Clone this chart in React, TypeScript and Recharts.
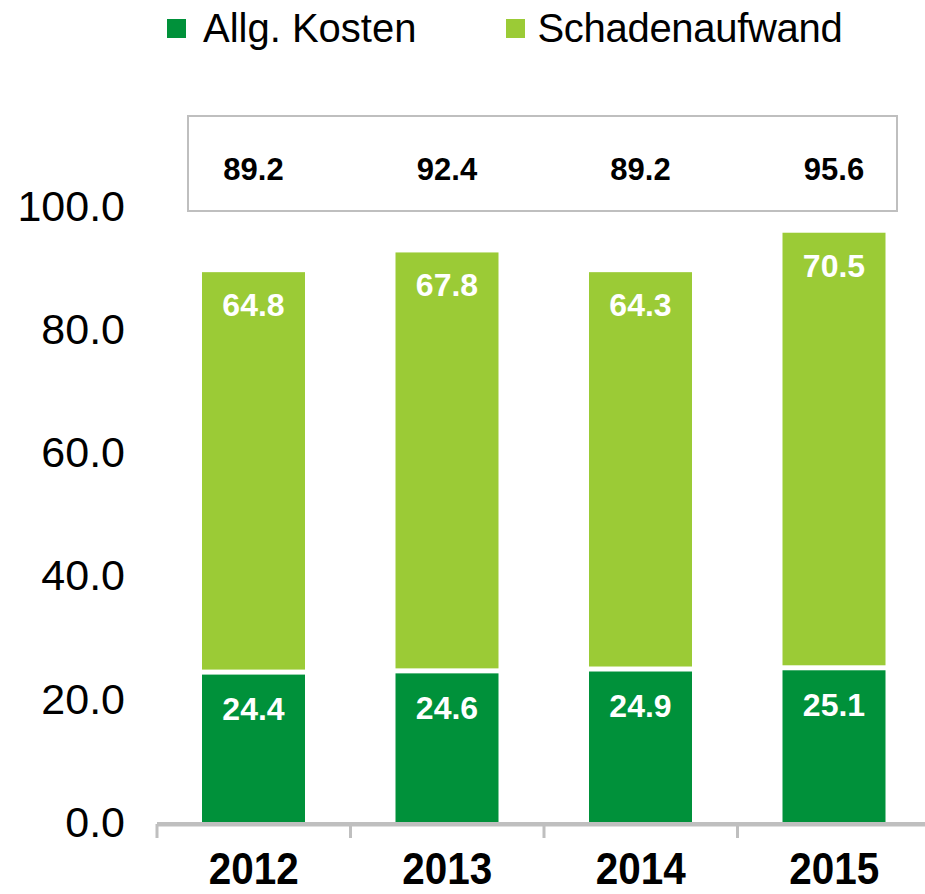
import React from 'react';
import { BarChart, Bar, XAxis, YAxis, LabelList } from 'recharts';

const categories = ['2012', '2013', '2014', '2015'];
const allgKosten = [24.4, 24.6, 24.9, 25.1];
const schadenaufwand = [64.8, 67.8, 64.3, 70.5];
const totals = [89.2, 92.4, 89.2, 95.6];
const yTicks = [0, 20, 40, 60, 80, 100];
const seriesNames = ['Allg. Kosten', 'Schadenaufwand'];

const DARK = '#00913A';
const LIGHT = '#9BCB36';
const GRAY = '#BFBFBF';
const FONT = '"Liberation Sans", Arial, sans-serif';

const data = categories.map((c, i) => ({
  year: c,
  allg: allgKosten[i],
  schaden: schadenaufwand[i],
  total: totals[i],
}));

const HALF_BAND = 96.75;

const DarkShape = (p: any) => (
  <rect x={p.x} y={p.y + 3} width={p.width} height={Math.max(0, p.height - 3)} fill={DARK} />
);
const LightShape = (p: any) => (
  <rect x={p.x} y={p.y} width={p.width} height={Math.max(0, p.height - 2)} fill={LIGHT} />
);

const insideLabel = (dy: number) => (p: any) => (
  <text
    x={p.x + p.width / 2}
    y={p.y + dy}
    textAnchor="middle"
    fill="#FFFFFF"
    fontFamily={FONT}
    fontWeight="bold"
    fontSize={32}
  >
    {Number(p.value).toFixed(1)}
  </text>
);

const totalLabel = (p: any) => (
  <text
    x={p.x + p.width / 2}
    y={180}
    textAnchor="middle"
    fill="#000000"
    fontFamily={FONT}
    fontWeight="bold"
    fontSize={31}
  >
    {totals[p.index].toFixed(1)}
  </text>
);

const YearTick = (p: any) => (
  <g>
    <line x1={p.x - HALF_BAND} x2={p.x - HALF_BAND} y1={824} y2={838} stroke={GRAY} strokeWidth={3} />
    <text
      transform={`translate(${p.x},884) scale(0.92,1)`}
      textAnchor="middle"
      fill="#000000"
      fontFamily={FONT}
      fontWeight="bold"
      fontSize={44}
    >
      {p.payload.value}
    </text>
  </g>
);

const YTick = (p: any) => (
  <text
    x={125}
    y={p.y + 15}
    textAnchor="end"
    fill="#000000"
    fontFamily={FONT}
    fontSize={43}
  >
    {Number(p.payload.value).toFixed(1)}
  </text>
);

export default function App() {
  return (
    <div style={{ position: 'relative', width: 925, height: 894, overflow: 'hidden', background: '#fff' }}>
      <style>{'html,body{margin:0;padding:0;overflow:hidden;}'}</style>
      <div
        style={{
          position: 'absolute',
          left: 167,
          top: 5,
          display: 'flex',
          alignItems: 'center',
          fontFamily: FONT,
          fontSize: 40,
          color: '#000',
          whiteSpace: 'nowrap',
          lineHeight: '46px',
        }}
      >
        <span style={{ width: 19, height: 19, background: DARK, display: 'inline-block', marginRight: 17 }} />
        <span style={{ marginRight: 90 }}>{seriesNames[0]}</span>
        <span style={{ width: 19, height: 19, background: LIGHT, display: 'inline-block', marginRight: 12 }} />
        <span style={{ letterSpacing: -0.3 }}>{seriesNames[1]}</span>
      </div>
      <div
        style={{
          position: 'absolute',
          left: 187,
          top: 115,
          width: 711,
          height: 97,
          border: `2px solid ${GRAY}`,
          boxSizing: 'border-box',
        }}
      />
      <div style={{ position: 'absolute', left: 0, top: 0 }}>
        <BarChart
          width={940}
          height={894}
          data={data}
          margin={{ top: 205.6, right: 9, bottom: 0, left: 0 }}
          barSize={103}
        >
          <XAxis
            dataKey="year"
            height={72}
            axisLine={{ stroke: GRAY, strokeWidth: 4.6, transform: 'translate(0,2.3)' }}
            tickLine={false}
            tickSize={0}
            tick={<YearTick />}
            interval={0}
          />
          <YAxis
            width={157}
            domain={[0, 100]}
            ticks={yTicks}
            axisLine={false}
            tickLine={false}
            tickSize={0}
            tick={<YTick />}
            allowDataOverflow
          />
          <Bar dataKey="allg" stackId="a" fill={DARK} shape={<DarkShape />} isAnimationActive={false}>
            <LabelList dataKey="allg" content={insideLabel(48.5)} />
          </Bar>
          <Bar dataKey="schaden" stackId="a" fill={LIGHT} shape={<LightShape />} isAnimationActive={false}>
            <LabelList dataKey="schaden" content={insideLabel(44)} />
            <LabelList dataKey="total" content={totalLabel} />
          </Bar>
        </BarChart>
      </div>
    </div>
  );
}
